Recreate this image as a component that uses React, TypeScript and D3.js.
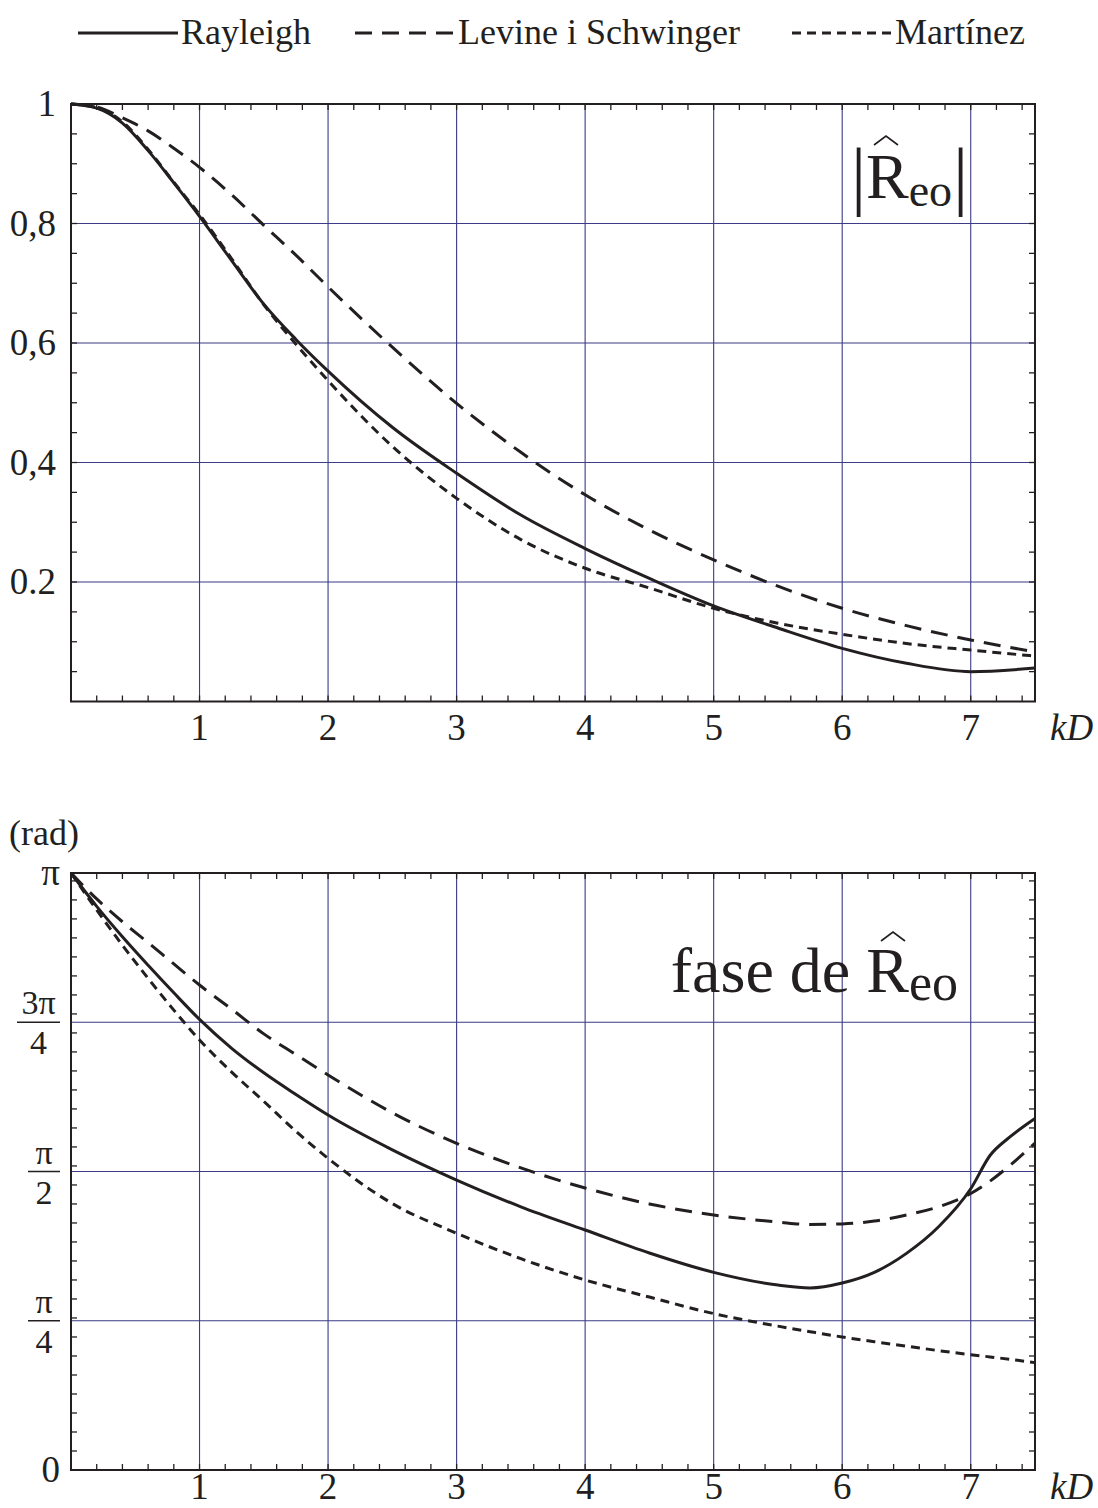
import React from "react";
import * as d3 from "d3";

// valores
const kdMag = [0, 0.2, 0.4, 0.6, 0.8, 1, 1.25, 1.5, 1.75, 2, 2.5, 3, 3.5, 4, 4.5, 5, 5.5, 6, 6.5, 7, 7.5];
const magRayleigh = [1, 0.993, 0.968, 0.922, 0.868, 0.812, 0.738, 0.665, 0.606, 0.553, 0.459, 0.382, 0.312, 0.256, 0.206, 0.16, 0.123, 0.089, 0.064, 0.05, 0.056];
const magLevine = [1, 0.995, 0.977, 0.955, 0.926, 0.894, 0.848, 0.797, 0.747, 0.694, 0.593, 0.499, 0.417, 0.346, 0.287, 0.237, 0.193, 0.156, 0.127, 0.103, 0.083];
const magMartinez = [1, 0.994, 0.97, 0.924, 0.869, 0.815, 0.741, 0.664, 0.598, 0.537, 0.427, 0.34, 0.271, 0.223, 0.19, 0.156, 0.131, 0.1125, 0.097, 0.086, 0.076];

const kdPhase = [0, 0.2, 0.4, 0.6, 0.8, 1, 1.25, 1.5, 1.75, 2, 2.5, 3, 3.5, 4, 4.5, 5, 5.5, 5.75, 6, 6.25, 6.5, 6.75, 7, 7.15, 7.3, 7.5];
const phaseRayleigh = [3.1416, 2.966, 2.806, 2.656, 2.511, 2.371, 2.219, 2.09, 1.976, 1.868, 1.685, 1.526, 1.385, 1.263, 1.142, 1.04, 0.973, 0.958, 0.984, 1.04, 1.14, 1.28, 1.48, 1.655, 1.75, 1.85];
const phaseLevine = [3.1416, 3.005, 2.885, 2.775, 2.663, 2.552, 2.425, 2.295, 2.186, 2.079, 1.88, 1.719, 1.59, 1.484, 1.4, 1.342, 1.305, 1.292, 1.295, 1.31, 1.342, 1.385, 1.455, 1.52, 1.6, 1.72];
const phaseMartinez = [3.1416, 2.947, 2.762, 2.587, 2.42, 2.263, 2.094, 1.94, 1.782, 1.64, 1.402, 1.246, 1.112, 1.0, 0.91, 0.823, 0.757, 0.728, 0.7, 0.675, 0.652, 0.628, 0.607, 0.595, 0.583, 0.565];

const xTicks = [1, 2, 3, 4, 5, 6, 7];
const magTicks = [1, 0.8, 0.6, 0.4, 0.2];
const magTickLabels = ["1", "0,8", "0,6", "0,4", "0.2"];
const phaseTicks = [Math.PI, (3 * Math.PI) / 4, Math.PI / 2, Math.PI / 4, 0];
const phaseTickLabels = [["π"], ["3π", "4"], ["π", "2"], ["π", "4"], ["0"]];

const seriesNames = ["Rayleigh", "Levine i Schwinger", "Martínez"];
const seriesDash = ["none", "17 10", "9 6"];

const INK = "#231f20";
const GRID = "#3b3b86";
const SERIF = "'Liberation Serif', 'Times New Roman', serif";

const x = d3.scaleLinear().domain([0, 7.5]).range([71, 1035]);
const yMag = d3.scaleLinear().domain([0, 1]).range([701.5, 104]);
const yPh = d3.scaleLinear().domain([0, Math.PI]).range([1470, 873]);

const Frame = ({ y, minorY }) => {
  const [y0, y1] = y.range();
  const [x0, x1] = x.range();
  const minorX = d3.range(0.2, 7.45, 0.2);
  const tl = 6;
  return (
    <g>
      {minorX.map((v, i) => (
        <g key={"mx" + i} stroke={INK} strokeWidth={1.3}>
          <line x1={x(v)} x2={x(v)} y1={y0} y2={y0 - tl} />
          <line x1={x(v)} x2={x(v)} y1={y1} y2={y1 + tl} />
        </g>
      ))}
      {minorY.map((v, i) => (
        <g key={"my" + i} stroke={INK} strokeWidth={1.3}>
          <line x1={x0} x2={x0 + tl} y1={y(v)} y2={y(v)} />
          <line x1={x1} x2={x1 - tl} y1={y(v)} y2={y(v)} />
        </g>
      ))}
      <rect x={x0} y={y1} width={x1 - x0} height={y0 - y1} fill="none" stroke={INK} strokeWidth={2} />
    </g>
  );
};

const Curves = ({ xs, ys, y }) => {
  const line = d3
    .line<number>()
    .x((_, i) => x(xs[i]))
    .y((d) => y(d))
    .curve(d3.curveMonotoneX);
  return (
    <g fill="none" stroke={INK} strokeWidth={3}>
      {ys.map((s, k) => (
        <path key={k} d={line(s) || ""} strokeDasharray={seriesDash[k]} />
      ))}
    </g>
  );
};

const Hat = ({ cx, y }) => (
  <path d={`M${cx - 12},${y + 9} L${cx},${y} L${cx + 12},${y + 9}`} fill="none" stroke={INK} strokeWidth={1.6} />
);

export default function App() {
  const [x0, x1] = x.range();
  return (
    <div style={{ position: "absolute", left: 0, top: 0 }}>
      <svg width={1098} height={1508} style={{ display: "block", background: "#fff" }} fontFamily={SERIF} fill={INK}>
        {/* leyenda */}
        <g fontSize={36}>
          {[
            [78, 178, 181],
            [355, 455, 458],
            [792, 893, 895],
          ].map(([a, b, t], k) => (
            <g key={k}>
              <line x1={a} x2={b} y1={33} y2={33} stroke={INK} strokeWidth={3} strokeDasharray={seriesDash[k]} />
              <text x={t} y={44}>{seriesNames[k]}</text>
            </g>
          ))}
        </g>

        {/* panel superior: módulo */}
        <g stroke={GRID} strokeWidth={1.1}>
          {xTicks.map((v) => (
            <line key={v} x1={x(v)} x2={x(v)} y1={yMag(0)} y2={yMag(1)} />
          ))}
          {magTicks.slice(1).map((v) => (
            <line key={v} x1={x0} x2={x1} y1={yMag(v)} y2={yMag(v)} />
          ))}
        </g>
        <Frame y={yMag} minorY={d3.range(0.05, 0.999, 0.05)} />
        <Curves xs={kdMag} ys={[magRayleigh, magLevine, magMartinez]} y={yMag} />
        <g fontSize={37}>
          {magTicks.map((v, i) => (
            <text key={v} x={56} y={yMag(v) + 12} textAnchor="end">
              {magTickLabels[i]}
            </text>
          ))}
          {xTicks.map((v) => (
            <text key={v} x={x(v)} y={740} textAnchor="middle">
              {v}
            </text>
          ))}
          <text x={1050} y={740} fontStyle="italic">kD</text>
        </g>
        <g>
          <text x={851} y={201} fontSize={76}>|</text>
          <text x={866} y={198} fontSize={64}>
            R<tspan fontSize={46} dy={8}>eo</tspan>
          </text>
          <text x={953} y={201} fontSize={76}>|</text>
          <Hat cx={886} y={136} />
        </g>

        {/* panel inferior: fase */}
        <text x={9} y={845} fontSize={36}>(rad)</text>
        <g stroke={GRID} strokeWidth={1.1}>
          {xTicks.map((v) => (
            <line key={v} x1={x(v)} x2={x(v)} y1={yPh(0)} y2={yPh(Math.PI)} />
          ))}
          {phaseTicks.slice(1, 4).map((v) => (
            <line key={v} x1={x0} x2={x1} y1={yPh(v)} y2={yPh(v)} />
          ))}
        </g>
        <Frame y={yPh} minorY={d3.range(0.1, 3.12, 0.1)} />
        <Curves xs={kdPhase} ys={[phaseRayleigh, phaseLevine, phaseMartinez]} y={yPh} />
        <g fontSize={37}>
          {phaseTicks.map((v, i) => {
            const lab = phaseTickLabels[i];
            const yy = yPh(v);
            if (lab.length === 1)
              return (
                <text key={i} x={60} y={yy + 12} textAnchor="end">
                  {lab[0]}
                </text>
              );
            const w = lab[0].length > 1 ? 43 : 32;
            const cx = 60 - w / 2;
            return (
              <g key={i} fontSize={34}>
                <text x={cx} y={yy - 8} textAnchor="middle">{lab[0]}</text>
                <line x1={60 - w} x2={60} y1={yy} y2={yy} stroke={INK} strokeWidth={1.5} />
                <text x={cx} y={yy + 32} textAnchor="middle">{lab[1]}</text>
              </g>
            );
          })}
        </g>
        <g fontSize={37}>
          {xTicks.map((v) => (
            <text key={v} x={x(v)} y={1499} textAnchor="middle">
              {v}
            </text>
          ))}
          <text x={1050} y={1499} fontStyle="italic">kD</text>
        </g>
        <g>
          <text x={958} y={992} fontSize={64} textAnchor="end">
            fase de R<tspan fontSize={52} dy={8}>eo</tspan>
          </text>
          <Hat cx={893} y={932} />
        </g>
      </svg>
    </div>
  );
}
